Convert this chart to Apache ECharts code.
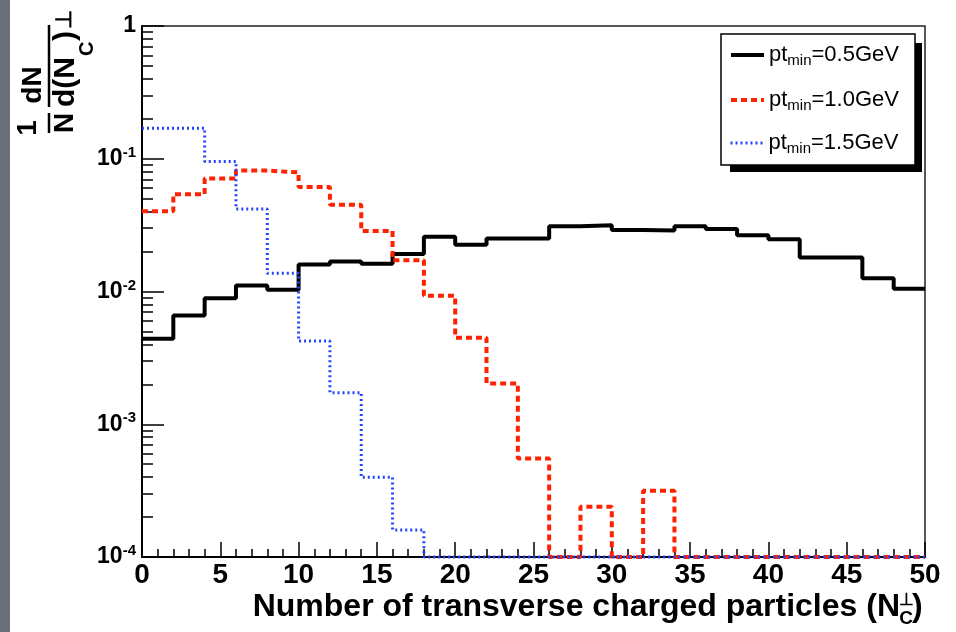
<!DOCTYPE html>
<html><head><meta charset="utf-8">
<script src="https://cdn.jsdelivr.net/npm/echarts@6/dist/echarts.min.js"></script>
<style>html,body{margin:0;padding:0;background:#fff}#c{width:956px;height:632px}</style>
</head><body><div id="c"></div>
<script>
// ---------- data ----------
const binEdges = [0,2,4,6,8,10,12,14,16,18,20,22,24,26,28,30,32,34,36,38,40,42,44,46,48];
const xMax = 50;
const seriesNames = ['pt_min=0.5GeV', 'pt_min=1.0GeV', 'pt_min=1.5GeV'];
const pt05 = [0.0044,0.0066,0.0089,0.0111,0.0103,0.016,0.0168,0.0162,0.0192,0.0258,0.0225,0.0251,0.0251,0.031,0.0315,0.029,0.0288,0.031,0.0296,0.0265,0.0247,0.018,0.018,0.0126,0.0105];
const pt10 = [0.0402,0.054,0.071,0.0815,0.0789,0.0613,0.0451,0.0286,0.0172,0.0093,0.00449,0.00203,0.000552,0,0.000239,0,0.000315,0,0,0,0,0,0,0,0];
const pt15 = [0.17,0.17,0.0955,0.0419,0.0137,0.00423,0.00173,0.000398,0.00016,0,0,0,0,0,0,0,0,0,0,0,0,0,0,0,0];
const yTickValues = [1e-4, 1e-3, 1e-2, 1e-1, 1];
const yTickLabels = ['10^-4', '10^-3', '10^-2', '10^-1', '1'];
const xTickLabels = ['0','5','10','15','20','25','30','35','40','45','50'];
const yMin = 1e-4, yMax = 1;

// ---------- helpers ----------
const FONT = '"Liberation Sans", Arial, Helvetica, sans-serif';
function histPoints(vals) {
  const v = x => (x > 0 ? x : yMin);
  const pts = binEdges.map((e, i) => [e, v(vals[i])]);
  pts.push([xMax, v(vals[vals.length - 1])]);
  return pts;
}
const minorVals = [];
for (let d = -4; d < 0; d++) for (let k = 2; k <= 9; k++) minorVals.push(+(k * Math.pow(10, d)).toPrecision(3));

function yLabel(val) {
  let idx = -1;
  yTickValues.forEach((t, i) => { if (Math.abs(Math.log10(t) - Math.log10(val)) < 1e-6) idx = i; });
  if (idx < 0) return '';
  const s = yTickLabels[idx];
  if (s.indexOf('^') < 0) return '{b|' + s + '}';
  const p = s.split('^');
  return '{b|' + p[0] + '}{s|' + p[1] + '}';
}
function legendLabel(name) {
  const m = name.match(/^pt_min(.*)$/);
  return '{a|pt}{s|min}{a|' + m[1] + '}';
}

const chart = echarts.init(document.getElementById('c'), null, {renderer: 'canvas'});
const colors = ['#000000', '#ff2200', '#2244ff'];
const styles = [
  {color: colors[0], width: 4, type: 'solid'},
  {color: colors[1], width: 4, type: [6, 4]},
  {color: colors[2], width: 3, type: [2, 3]}
];
const dataSets = [pt05, pt10, pt15];

const legendRich = {
  a: {fontSize: 22, fontFamily: FONT, color: '#000', lineHeight: 26},
  s: {fontSize: 15, fontFamily: FONT, color: '#000', padding: [11, 0, 0, 0], lineHeight: 17}
};

function t(text, x, y, size, align, extra) {
  return Object.assign({type: 'text', x: x, y: y, style: {text: text, font: 'bold ' + size + 'px ' + FONT, fill: '#000',
    align: align, verticalAlign: 'middle', textAlign: align, textVerticalAlign: 'middle'}}, extra || {});
}

const option = {
  animation: false,
  backgroundColor: '#ffffff',
  grid: {left: 142, top: 26, right: 31, bottom: 75, show: true, borderColor: '#222', borderWidth: 1.5, backgroundColor: 'transparent'},
  xAxis: {
    type: 'value', min: 0, max: xMax, interval: 5,
    axisLine: {show: true, lineStyle: {color: '#000', width: 2}},
    axisTick: {show: true, inside: true, length: 15, lineStyle: {color: '#000', width: 1.5}},
    minorTick: {show: true, splitNumber: 5, length: 8, lineStyle: {color: '#000', width: 1.5}},
    splitLine: {show: false}, minorSplitLine: {show: false},
    axisLabel: {
      color: '#000', fontSize: 28, fontWeight: 'bold', fontFamily: FONT, margin: 4,
      formatter: v => xTickLabels[Math.round(v / 5)] || ''
    }
  },
  yAxis: [{
    type: 'log', logBase: 10, min: yMin, max: yMax,
    axisLine: {show: true, lineStyle: {color: '#000', width: 2}},
    axisTick: {show: true, inside: true, length: 22, customValues: yTickValues, lineStyle: {color: '#000', width: 1.5}},
    axisLabel: {
      customValues: yTickValues, margin: 6, formatter: yLabel,
      rich: {
        b: {fontSize: 23, fontWeight: 'bold', fontFamily: FONT, color: '#000'},
        s: {fontSize: 15, fontWeight: 'bold', fontFamily: FONT, color: '#000', padding: [0, 0, 12, 0]}
      }
    },
    splitLine: {show: false}
  }, {
    type: 'log', logBase: 10, min: yMin, max: yMax, position: 'left', offset: 0,
    axisLine: {show: false},
    axisTick: {show: true, inside: true, length: 11, customValues: minorVals, lineStyle: {color: '#000', width: 1.5}},
    axisLabel: {show: false},
    splitLine: {show: false}
  }],
  legend: seriesNames.map((n, i) => ({
    data: [n], left: 729, top: [42, 87, 130][i], orient: 'vertical', padding: 0,
    itemWidth: 33, itemHeight: 14, itemGap: 0, selectedMode: false,
    itemStyle: {opacity: 0},
    lineStyle: {width: styles[i].width, type: styles[i].type, color: styles[i].color},
    formatter: legendLabel,
    textStyle: {rich: legendRich, fontFamily: FONT, fontSize: 22, color: '#000'},
    z: 10
  })),
  graphic: [
    {type: 'rect', shape: {x: 0, y: 0, width: 10, height: 632}, style: {fill: '#6a6f78'}, z: 0},
    {type: 'rect', shape: {x: 730, y: 43, width: 192, height: 129}, style: {fill: '#000'}, z: 5},
    {type: 'rect', shape: {x: 721, y: 34, width: 194, height: 131}, style: {fill: '#fff', stroke: '#000', lineWidth: 1.5}, z: 6},
    // x axis title
    t('Number of transverse charged particles (N', 900, 607, 32, 'right', {z: 6}),
    t('C', 906, 619, 19, 'center', {z: 6}),
    t('⊥', 906, 600, 17, 'center', {z: 6}),
    t(')', 912, 607, 32, 'left', {z: 6}),
    // y axis title (rotated group)
    {type: 'group', x: 49, y: 133, rotation: Math.PI / 2, z: 6, children: [
      t('1', 5, -21, 28, 'center'),
      {type: 'line', shape: {x1: 0, y1: 0, x2: 20, y2: 0}, style: {stroke: '#000', lineWidth: 2.5}},
      t('N', 10, 16, 28, 'center'),
      t('dN', 48, -16, 28, 'center'),
      {type: 'line', shape: {x1: 26, y1: 0, x2: 108, y2: 0}, style: {stroke: '#000', lineWidth: 2.5}},
      t('d(N', 26, 17, 30, 'left'),
      t('C', 77, 38, 20, 'left'),
      t(')', 92, 17, 30, 'left'),
      t('⊥', 104, 16, 22, 'left')
    ]}
  ],
  series: dataSets.map((vals, i) => ({
    name: seriesNames[i], type: 'line', step: 'end', symbol: 'none', showSymbol: false,
    xAxisIndex: 0, yAxisIndex: 0, clip: false, z: 3 + i,
    lineStyle: styles[i], itemStyle: {color: colors[i]},
    data: histPoints(vals)
  }))
};
chart.setOption(option);
</script>
</body></html>
